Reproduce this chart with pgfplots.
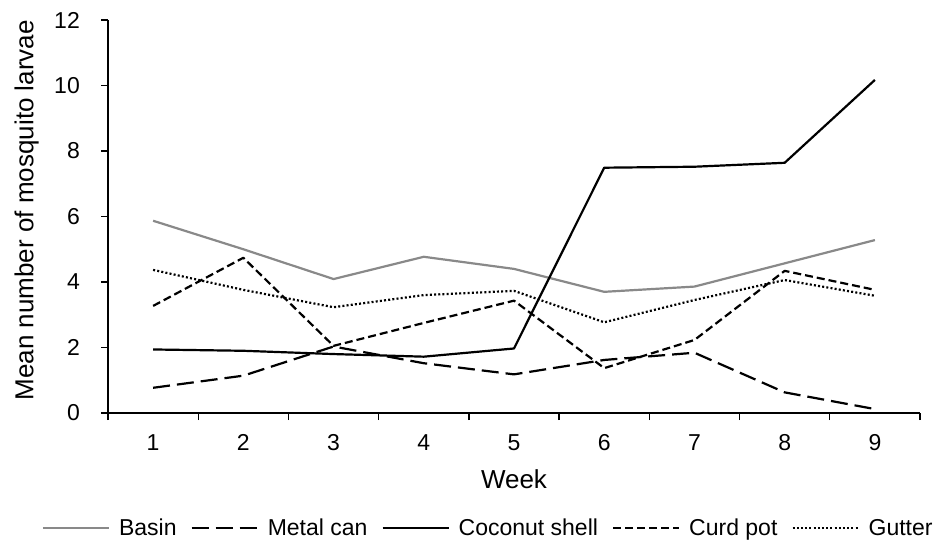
\documentclass[border=0pt]{standalone}
\usepackage{fontspec}
\setmainfont{Liberation Sans}
\usepackage{pgfplots}
\pgfplotsset{compat=1.18}

\definecolor{basingray}{RGB}{137,137,137}

\begin{document}
\begin{tikzpicture}
\useasboundingbox (0,0) rectangle (936pt,542pt);
\begin{axis}[
    at={(108pt,129pt)}, anchor=south west,
    scale only axis,
    width=812pt, height=393pt,
    xmin=0.5, xmax=9.5,
    ymin=0, ymax=12,
    axis lines*=left,
    axis line style={line width=1.4pt},
    tick align=outside,
    major tick length=7pt,
    tick style={line width=1.4pt, black},
    xtick={0.5,1.5,...,9.5},
    xticklabels={},
    extra x ticks={1,2,...,9},
    extra x tick labels={1,2,3,4,5,6,7,8,9},
    extra x tick style={major tick length=0pt},
    ytick={0,2,...,12},
    /pgf/number format/assume math mode=true,
    tick label style={font=\fontsize{23}{27}\selectfont},
    xticklabel style={anchor=base, yshift=-37pt},
    yticklabel style={anchor=east, inner sep=0pt, xshift=-21pt},
    xlabel={Week},
    ylabel={Mean number of mosquito larvae},
    every axis x label/.style={at={(axis description cs:0.5,-0.191)}, anchor=base,
        font=\fontsize{26}{30}\selectfont},
    every axis y label/.style={at={(axis description cs:-0.092,0.516)}, anchor=base,
        rotate=90, font=\fontsize{26}{30}\selectfont},
    legend columns=5,
    legend style={at={(axis description cs:0.467,-0.2926)}, anchor=center,
        draw=none, font=\fontsize{23}{27}\selectfont,
        nodes={inner sep=0pt},
        /tikz/every odd column/.append style={column sep=9pt},
        /tikz/every even column/.append style={column sep=14pt}},
    legend image code/.code={\draw[#1] (0pt,0pt) -- (66pt,0pt);},
    every axis plot/.append style={line width=2.2pt, line join=round},
]

\addplot[basingray] coordinates {
(1,5.87) (2,5.00) (3,4.09) (4,4.77) (5,4.40) (6,3.70) (7,3.86) (8,4.57) (9,5.28)
};
\addlegendentry{Basin}

\addplot[black, dash pattern=on 17pt off 7pt] coordinates {
(1,0.77) (2,1.14) (3,2.03) (4,1.52) (5,1.18) (6,1.62) (7,1.84) (8,0.63) (9,0.12)
};
\addlegendentry{Metal can}

\addplot[black] coordinates {
(1,1.94) (2,1.90) (3,1.80) (4,1.72) (5,1.97) (6,7.49) (7,7.52) (8,7.64) (9,10.17)
};
\addlegendentry{Coconut shell}

\addplot[black, dash pattern=on 8pt off 4pt] coordinates {
(1,3.27) (2,4.74) (3,2.05) (4,2.75) (5,3.43) (6,1.37) (7,2.23) (8,4.34) (9,3.76)
};
\addlegendentry{Curd pot}

\addplot[black, dash pattern=on 2pt off 2.2pt] coordinates {
(1,4.37) (2,3.76) (3,3.23) (4,3.60) (5,3.73) (6,2.77) (7,3.45) (8,4.06) (9,3.58)
};
\addlegendentry{Gutter}

\end{axis}
\end{tikzpicture}
\end{document}
